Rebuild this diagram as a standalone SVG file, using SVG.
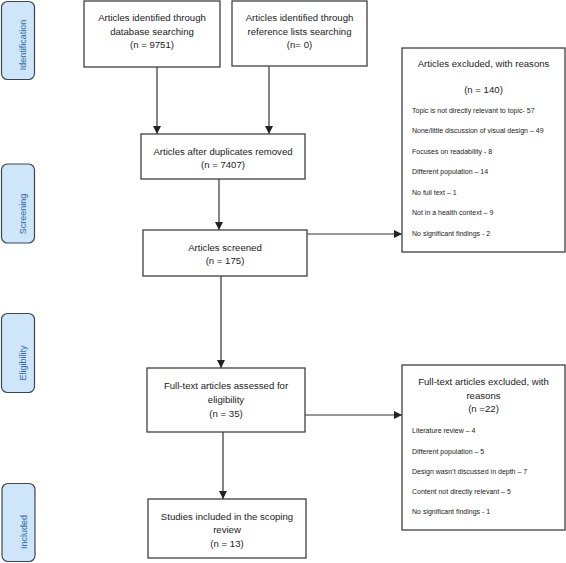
<svg xmlns="http://www.w3.org/2000/svg" width="566" height="563" viewBox="0 0 566 563">
<style>
.box{fill:#fff;stroke:#404040;stroke-width:1.3}
.side{fill:#cfe6fa;stroke:#3c4652;stroke-width:1.2}
.st{font-family:"Liberation Sans",Arial,sans-serif;font-size:9px;fill:#2f6aa6;text-anchor:middle}
.t{font-family:"Liberation Sans",Arial,sans-serif;font-size:9.6px;fill:#222;text-anchor:middle}
.s{font-family:"Liberation Sans",Arial,sans-serif;font-size:7px;fill:#222}
.c{fill:none;stroke:#333;stroke-width:1.2}
</style>
<defs>
<marker id="ah" markerUnits="userSpaceOnUse" markerWidth="8" markerHeight="8" refX="8" refY="4" orient="auto">
<path d="M0,0 L8,4 L0,8 z" fill="#222"/>
</marker>
</defs>
<g id="stage-identification"><rect class="side" x="1.5" y="1.5" width="33" height="78" rx="6"/><text class="st" transform="translate(26,45) rotate(-90)">Identification</text></g>
<g id="stage-screening"><rect class="side" x="1.5" y="164" width="33" height="79" rx="6"/><text class="st" transform="translate(26,214) rotate(-90)">Screening</text></g>
<g id="stage-eligibility"><rect class="side" x="1.5" y="313.5" width="33" height="79" rx="6"/><text class="st" transform="translate(26,363) rotate(-90)">Eligibility</text></g>
<g id="stage-included"><rect class="side" x="2" y="483.5" width="33" height="78" rx="6"/><text class="st" transform="translate(26.5,532) rotate(-90)">Included</text></g>

<g id="connectors">
<line class="c" x1="157" y1="67" x2="157" y2="134" marker-end="url(#ah)"/>
<line class="c" x1="269" y1="66" x2="269" y2="134" marker-end="url(#ah)"/>
<line class="c" x1="219" y1="179" x2="219" y2="230" marker-end="url(#ah)"/>
<line class="c" x1="307" y1="234" x2="402" y2="234" marker-end="url(#ah)"/>
<line class="c" x1="221" y1="276" x2="221" y2="368" marker-end="url(#ah)"/>
<line class="c" x1="305" y1="415" x2="402" y2="415" marker-end="url(#ah)"/>
<line class="c" x1="223" y1="432" x2="223" y2="499" marker-end="url(#ah)"/>
</g>

<g id="db-search"><rect class="box" x="84" y="1" width="136" height="66"/>
<text class="t" x="152" y="20.5">Articles identified through</text>
<text class="t" x="152" y="34.5">database searching</text>
<text class="t" x="152" y="47.5">(n = 9751)</text></g>

<g id="ref-search"><rect class="box" x="232" y="1" width="135" height="65"/>
<text class="t" x="299.5" y="20.5">Articles identified through</text>
<text class="t" x="299.5" y="34.5">reference lists searching</text>
<text class="t" x="299.5" y="47.5">(n= 0)</text></g>

<g id="dedup"><rect class="box" x="141" y="134" width="164" height="45"/>
<text class="t" x="223" y="154.5">Articles after duplicates removed</text>
<text class="t" x="223" y="167.5">(n = 7407)</text></g>

<g id="screened"><rect class="box" x="143" y="230" width="164" height="46"/>
<text class="t" x="225" y="250.5">Articles screened</text>
<text class="t" x="225" y="263.5">(n = 175)</text></g>

<g id="excluded1"><rect class="box" x="402" y="48" width="163" height="204"/>
<text class="t" x="483.5" y="66.5">Articles excluded, with reasons</text>
<text class="t" x="483.5" y="92.5">(n = 140)</text>
<text class="s" x="412" y="112.5">Topic is not directly relevant to topic- 57</text>
<text class="s" x="412" y="133">None/little discussion of visual design – 49</text>
<text class="s" x="412" y="153.5">Focuses on readability - 8</text>
<text class="s" x="412" y="174">Different population – 14</text>
<text class="s" x="412" y="194.5">No full text – 1</text>
<text class="s" x="412" y="215">Not in a health context – 9</text>
<text class="s" x="412" y="235.5">No significant findings - 2</text></g>

<g id="fulltext"><rect class="box" x="147" y="368" width="158" height="64"/>
<text class="t" x="226" y="388.5">Full-text articles assessed for</text>
<text class="t" x="226" y="402.5">eligibility</text>
<text class="t" x="226" y="416.5">(n = 35)</text></g>

<g id="excluded2"><rect class="box" x="402" y="365" width="163" height="165"/>
<text class="t" x="483.5" y="384.5">Full-text articles excluded, with</text>
<text class="t" x="483.5" y="398.5">reasons</text>
<text class="t" x="483.5" y="411.5">(n =22)</text>
<text class="s" x="412" y="433">Literature review – 4</text>
<text class="s" x="412" y="453.5">Different population – 5</text>
<text class="s" x="412" y="473.5">Design wasn’t discussed in depth – 7</text>
<text class="s" x="412" y="493.5">Content not directly relevant – 5</text>
<text class="s" x="412" y="513.5">No significant findings - 1</text></g>

<g id="included"><rect class="box" x="148" y="499" width="158" height="59"/>
<text class="t" x="227" y="519.5">Studies included in the scoping</text>
<text class="t" x="227" y="532.5">review</text>
<text class="t" x="227" y="546.5">(n = 13)</text></g>
</svg>
